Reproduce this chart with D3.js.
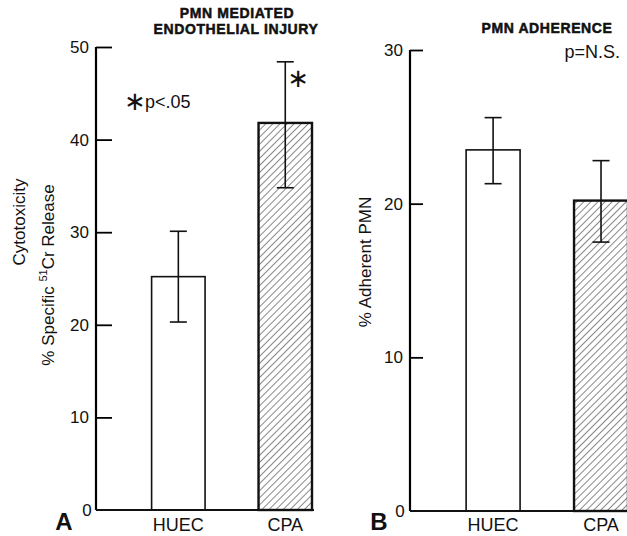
<!DOCTYPE html>
<html>
<head>
<meta charset="utf-8">
<script src="https://cdn.jsdelivr.net/npm/d3@7"></script>
<style>
  body { margin: 0; background: #fff; }
  svg { display: block; font-family: "Liberation Sans", Arial, sans-serif; }
</style>
</head>
<body>
<div id="chart"></div>
<script>
// values
const groups = ['HUEC', 'CPA'];
const injuryMean = [25.2, 41.8];
const injuryLow = [20.3, 34.8];
const injuryHigh = [30.1, 48.4];
const adhMean = [23.5, 20.2];
const adhLow = [21.3, 17.5];
const adhHigh = [25.6, 22.8];
const injuryTicks = [0, 10, 20, 30, 40, 50];
const adhTicks = [0, 10, 20, 30];

const W = 627, H = 536;
const svg = d3.select('#chart').append('svg')
    .attr('width', W)
    .attr('height', H);

// diagonal hatch for the CPA bars
svg.append('defs').append('pattern')
    .attr('id', 'hatch')
    .attr('patternUnits', 'userSpaceOnUse')
    .attr('width', 5)
    .attr('height', 5)
    .attr('patternTransform', 'rotate(45)')
    .append('line')
    .attr('x1', 0).attr('y1', 0)
    .attr('x2', 0).attr('y2', 5)
    .attr('stroke', '#111')
    .attr('stroke-width', 1);

function panel({xRange, yRange, yMax, ticks, tickLen, mean, low, high, letter, letterX, zeroX}) {
    const x = d3.scaleBand()
        .domain(groups)
        .range(xRange)
        .paddingInner(0.5)
        .paddingOuter(0.26)
        .align(1);

    const y = d3.scaleLinear()
        .domain([0, yMax])
        .range(yRange);

    const g = svg.append('g');

    // y axis, ticks pointing inward
    const yAxis = g.append('g')
        .attr('transform', `translate(${xRange[0]},0)`)
        .call(d3.axisLeft(y).tickValues(ticks.filter(t => t > 0)).tickSize(-tickLen).tickSizeOuter(0).tickPadding(7));
    yAxis.select('.domain').attr('stroke-width', 2.2).attr('d', `M0,${yRange[0]}V${yRange[1]}`);
    yAxis.selectAll('.tick line').attr('stroke-width', 1.8);
    yAxis.selectAll('.tick text')
        .attr('font-size', 17)
        .attr('font-family', '"Liberation Sans", Arial, sans-serif')
        .attr('fill', '#111');

    g.append('text')
        .attr('x', zeroX)
        .attr('y', y(0) + 6)
        .attr('text-anchor', 'middle')
        .attr('font-size', 17)
        .attr('fill', '#111')
        .text('0');

    // bars
    g.selectAll('.bar')
        .data(groups)
        .enter()
        .append('rect')
        .attr('x', d => x(d))
        .attr('y', (d, i) => y(mean[i]))
        .attr('width', x.bandwidth())
        .attr('height', (d, i) => y(0) - y(mean[i]))
        .attr('fill', (d, i) => i === 1 ? 'url(#hatch)' : '#fff')
        .attr('stroke', '#111')
        .attr('stroke-width', (d, i) => i === 1 ? 2.4 : 1.6);

    // baseline
    g.append('line')
        .attr('x1', xRange[0]).attr('x2', xRange[1] + 2)
        .attr('y1', y(0)).attr('y2', y(0))
        .attr('stroke', '#111')
        .attr('stroke-width', 2.2);

    // error bars
    const cx = d => x(d) + x.bandwidth() / 2;
    const eb = g.selectAll('.err')
        .data(groups)
        .enter()
        .append('g')
        .attr('stroke', '#111')
        .attr('stroke-width', 1.6);
    eb.append('line')
        .attr('x1', cx).attr('x2', cx)
        .attr('y1', (d, i) => y(low[i]))
        .attr('y2', (d, i) => y(high[i]));
    eb.append('line')
        .attr('x1', d => cx(d) - 8.5).attr('x2', d => cx(d) + 8.5)
        .attr('y1', (d, i) => y(high[i]))
        .attr('y2', (d, i) => y(high[i]));
    eb.append('line')
        .attr('x1', d => cx(d) - 8.5).attr('x2', d => cx(d) + 8.5)
        .attr('y1', (d, i) => y(low[i]))
        .attr('y2', (d, i) => y(low[i]));

    // category labels
    g.selectAll('.cat')
        .data(groups)
        .enter()
        .append('text')
        .attr('x', d => cx(d))
        .attr('y', 531)
        .attr('text-anchor', 'middle')
        .attr('font-size', 18)
        .attr('fill', '#111')
        .text(d => d);

    g.append('text')
        .attr('x', letterX)
        .attr('y', 530)
        .attr('text-anchor', 'middle')
        .attr('font-size', 24)
        .attr('font-weight', 'bold')
        .attr('fill', '#111')
        .text(letter);

    return {x, y};
}

const A = panel({
    xRange: [96, 312], yRange: [510, 47], yMax: 50, ticks: injuryTicks, tickLen: 16,
    mean: injuryMean, low: injuryLow, high: injuryHigh, letter: 'A', letterX: 64, zeroX: 87
});
const B = panel({
    xRange: [410, 628], yRange: [511, 50], yMax: 30, ticks: adhTicks, tickLen: 13,
    mean: adhMean, low: adhLow, high: adhHigh, letter: 'B', letterX: 379, zeroX: 400
});

// titles
const title = (txt, x, y) => svg.append('text')
    .attr('x', x).attr('y', y)
    .attr('text-anchor', 'middle')
    .attr('font-size', 14)
    .attr('font-weight', 'bold')
    .attr('letter-spacing', 0.6)
    .attr('stroke', '#111')
    .attr('stroke-width', 0.5)
    .attr('fill', '#111')
    .text(txt);
title('PMN MEDIATED', 237, 18);
title('ENDOTHELIAL INJURY', 236, 34);
title('PMN ADHERENCE', 547, 33);

// y axis titles for panel A
svg.append('text')
    .attr('transform', 'translate(25,222) rotate(-90)')
    .attr('text-anchor', 'middle')
    .attr('font-size', 17)
    .attr('fill', '#111')
    .text('Cytotoxicity');
const yl = svg.append('text')
    .attr('transform', 'translate(54,275) rotate(-90)')
    .attr('text-anchor', 'middle')
    .attr('font-size', 17)
    .attr('fill', '#111');
yl.append('tspan').text('% Specific ');
yl.append('tspan').attr('font-size', 11).attr('dy', -7).text('51');
yl.append('tspan').attr('dy', 7).text('Cr Release');

// y axis title for panel B
svg.append('text')
    .attr('transform', 'translate(371,262) rotate(-90)')
    .attr('text-anchor', 'middle')
    .attr('font-size', 17)
    .attr('fill', '#111')
    .text('% Adherent PMN');

// significance notes
svg.append('text')
    .attr('x', 135).attr('y', 110)
    .attr('text-anchor', 'middle')
    .attr('font-family', '"DejaVu Sans", sans-serif')
    .attr('font-size', 26)
    .attr('fill', '#111')
    .text('∗');
svg.append('text')
    .attr('x', 145).attr('y', 108)
    .attr('font-size', 18)
    .attr('fill', '#111')
    .text('p<.05');
svg.append('text')
    .attr('x', A.x('CPA') + A.x.bandwidth() / 2 + 13).attr('y', 87)
    .attr('text-anchor', 'middle')
    .attr('font-family', '"DejaVu Sans", sans-serif')
    .attr('font-size', 26)
    .attr('fill', '#111')
    .text('∗');
svg.append('text')
    .attr('x', 620).attr('y', 58)
    .attr('text-anchor', 'end')
    .attr('font-size', 18)
    .attr('fill', '#111')
    .text('p=N.S.');
</script>
</body>
</html>
